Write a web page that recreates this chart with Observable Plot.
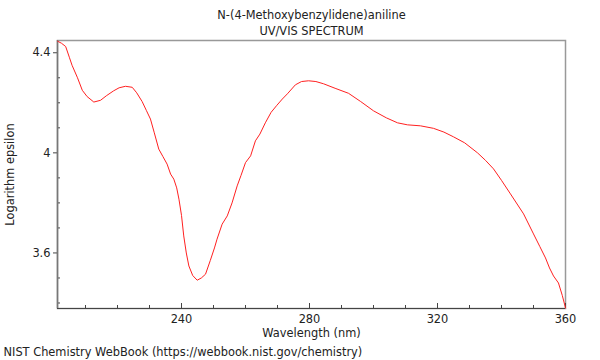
<!DOCTYPE html>
<html>
<head>
<meta charset="utf-8">
<script src="https://cdn.jsdelivr.net/npm/d3@7"></script>
<script src="https://cdn.jsdelivr.net/npm/@observablehq/plot@0.6"></script>
<style>
  body { margin: 0; background: #fff; }
  svg { display: block; }
</style>
</head>
<body>
<div id="chart"></div>
<script>
const title = "N-(4-Methoxybenzylidene)aniline";
const subtitle = "UV/VIS SPECTRUM";
const xLabel = "Wavelength (nm)";
const yLabel = "Logarithm epsilon";
const caption = "NIST Chemistry WebBook (https://webbook.nist.gov/chemistry)";

const wavelength = [201.3,202.5,203.8,205.0,205.8,207.5,209.0,210.5,212.6,214.7,216.5,218.8,220.5,222.5,224.6,226.0,227.7,229.0,230.3,231.5,232.9,234.2,235.5,236.6,237.6,238.5,239.2,240.0,240.7,241.5,242.3,243.5,244.9,246.2,247.5,249.0,250.3,251.1,252.7,254.3,255.8,257.4,258.6,260.0,261.6,263.1,264.5,266.2,268.0,269.8,271.5,273.1,275.6,277.5,279.7,282.0,284.4,288.0,292.2,296.0,300.0,304.0,307.5,310.6,314.7,318.75,322.0,325.0,328.5,332.5,335.0,337.5,340.0,342.8,346.9,350.0,352.0,353.75,355.0,356.25,357.8,359.0,360.0];
const logEpsilon = [4.446,4.438,4.425,4.38,4.35,4.30,4.25,4.225,4.203,4.21,4.228,4.248,4.26,4.266,4.262,4.24,4.205,4.17,4.135,4.08,4.015,3.985,3.955,3.915,3.895,3.86,3.815,3.75,3.668,3.60,3.548,3.51,3.491,3.50,3.515,3.57,3.62,3.655,3.715,3.748,3.80,3.868,3.91,3.961,3.988,4.048,4.075,4.12,4.162,4.19,4.215,4.236,4.272,4.285,4.288,4.285,4.276,4.258,4.238,4.205,4.168,4.14,4.12,4.112,4.108,4.098,4.083,4.064,4.04,4.0,3.97,3.936,3.89,3.836,3.756,3.676,3.625,3.58,3.54,3.508,3.48,3.43,3.38];

const xMajorTicks = [240, 280, 320, 360];
const xMinorTicks = [210,220,230,250,260,270,290,300,310,330,340,350];
const yMajorTicks = [3.6, 4.0, 4.4];
const yMinorTicks = [3.4,3.5,3.7,3.8,3.9,4.1,4.2,4.3];
const xDomain = [201.25, 360];
const yDomain = [3.378, 4.449];

const data = wavelength.map((w, i) => ({w, v: logEpsilon[i]}));
const fs = 11.4;

const chart = Plot.plot({
  width: 600,
  height: 360,
  marginLeft: 57,
  marginRight: 35,
  marginTop: 40,
  marginBottom: 52,
  style: {fontFamily: "'DejaVu Sans', sans-serif", fontSize: fs + "px", color: "#222", background: "#fff"},
  x: {domain: xDomain, label: null},
  y: {domain: yDomain, label: null},
  marks: [
    Plot.frame({stroke: "#999", strokeWidth: 1.5}),
    Plot.axisX(xMajorTicks, {tickSize: -5, tickFormat: () => "", stroke: "#444", label: null}),
    Plot.axisX(xMinorTicks, {tickSize: -3, tickFormat: () => "", stroke: "#444", label: null}),
    Plot.axisX(xMajorTicks, {tickSize: 0, tickPadding: 6, fontSize: fs, label: null, fill: "#222"}),
    Plot.axisY(yMajorTicks, {tickSize: 4, tickPadding: 3, fontSize: fs, label: null, tickFormat: d => d === 4 ? "4" : d.toFixed(1), stroke: "#444", fill: "#222"}),
    Plot.axisY(yMinorTicks, {tickSize: -3, tickFormat: () => "", stroke: "#444", label: null}),
    Plot.ruleY([yDomain[0]], {stroke: "#444", strokeWidth: 1}),
    Plot.ruleX([xDomain[0]], {stroke: "#777", strokeWidth: 1.5}),
    Plot.line(data, {x: "w", y: "v", stroke: "#ff2020", strokeWidth: 1}),
    Plot.text([title], {frameAnchor: "top", lineAnchor: "middle", dy: -25, fontSize: fs, fill: "#222"}),
    Plot.text([subtitle], {frameAnchor: "top", lineAnchor: "middle", dy: -9, fontSize: fs, fill: "#222"}),
    Plot.text([xLabel], {frameAnchor: "bottom", lineAnchor: "middle", dy: 25, fontSize: fs, fill: "#222"}),
    Plot.text([yLabel], {frameAnchor: "left", lineAnchor: "middle", textAnchor: "middle", dx: -47, rotate: -90, fontSize: fs, fill: "#222"}),
    Plot.text([caption], {frameAnchor: "bottom-left", lineAnchor: "middle", dx: -54, dy: 44, textAnchor: "start", fontSize: fs, fill: "#222"})
  ]
});
document.getElementById("chart").append(chart);
</script>
</body>
</html>
